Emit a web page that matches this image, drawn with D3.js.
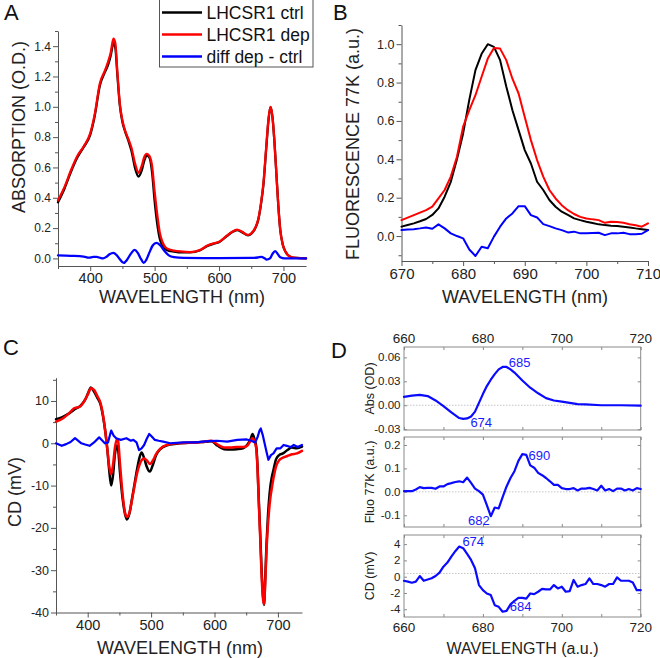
<!DOCTYPE html>
<html><head><meta charset="utf-8">
<script src="https://cdn.jsdelivr.net/npm/d3@7"></script>
<style>body{margin:0;background:#fff}svg{display:block}</style>
</head><body>
<svg id="c" width="660" height="658"></svg>
<script>
// ---------- Panel A: absorption ----------
const absWl = [350,360,370,380,390,400,407,415,423,428,432,436,439,442,446,450,454,459,464,470,475,480,484,488,492,496,500,504,508,512,516,522,530,540,555,570,582,592,600,612,620,628,636,645,650,656,661,665,669,673,677,680,683,686,689,692,695,699,703,710,720,735];
const absCtrl = [0.37,0.46,0.57,0.665,0.735,0.815,0.94,1.14,1.23,1.28,1.34,1.42,1.39,1.22,1.01,0.90,0.84,0.78,0.71,0.59,0.54,0.58,0.645,0.68,0.665,0.57,0.38,0.23,0.13,0.085,0.062,0.05,0.045,0.04,0.04,0.052,0.082,0.097,0.107,0.147,0.172,0.187,0.172,0.152,0.162,0.197,0.257,0.355,0.49,0.71,0.92,1.00,0.93,0.77,0.56,0.35,0.19,0.09,0.045,0.013,0.003,0.0];
const absDep = [0.383,0.47,0.58,0.675,0.74,0.825,0.95,1.154,1.24,1.30,1.36,1.45,1.42,1.24,1.02,0.91,0.845,0.79,0.73,0.62,0.565,0.61,0.67,0.69,0.675,0.61,0.44,0.29,0.17,0.11,0.078,0.06,0.052,0.046,0.042,0.055,0.085,0.10,0.11,0.15,0.175,0.19,0.175,0.155,0.165,0.20,0.26,0.36,0.50,0.72,0.93,1.00,0.93,0.77,0.56,0.35,0.19,0.09,0.045,0.013,0.003,0.0];
const absDiffWl = [350,370,390,398,405,410,416,420,425,430,436,441,446,452,457,463,469,474,479,483,487,492,497,503,509,515,522,530,545,600,650,660,666,670,674,679,683,687,691,695,702,735];
const absDiff = [0.02,0.017,0.012,0.005,0.01,0.01,0.003,0.0,0.01,0.028,0.037,0.022,-0.005,-0.03,-0.01,0.03,0.057,0.035,-0.005,-0.03,-0.01,0.04,0.085,0.103,0.085,0.05,0.02,0.008,0.003,0.002,0.003,0.006,0.01,0.003,-0.008,0.0,0.03,0.048,0.03,0.008,0.0,0.0];
const absYTicks = [0,0.2,0.4,0.6,0.8,1.0,1.2,1.4];
const absXTicks = [400,500,600,700];
const legendLabels = ["LHCSR1 ctrl","LHCSR1 dep","diff dep - ctrl"];
const seriesColors = ["#000000","#ff0000","#0000ff"];

// ---------- Panel B: fluorescence 77K ----------
const fluWl = d3.range(670, 711);
const fluCtrl = [0.049,0.058,0.066,0.077,0.089,0.11,0.144,0.205,0.283,0.40,0.535,0.71,0.865,0.95,1.0,0.986,0.917,0.78,0.656,0.552,0.448,0.378,0.283,0.24,0.188,0.153,0.127,0.11,0.092,0.083,0.075,0.068,0.061,0.057,0.054,0.052,0.049,0.045,0.040,0.036,0.031];
const fluDep = [0.083,0.096,0.109,0.122,0.135,0.153,0.196,0.24,0.31,0.413,0.57,0.656,0.734,0.83,0.925,0.98,0.977,0.917,0.82,0.743,0.62,0.50,0.396,0.31,0.24,0.196,0.161,0.135,0.115,0.10,0.092,0.087,0.083,0.069,0.075,0.073,0.069,0.062,0.056,0.049,0.066];
const fluDiff = [0.031,0.034,0.036,0.040,0.045,0.038,0.061,0.04,0.014,0.0,-0.012,-0.07,-0.104,-0.056,-0.064,-0.003,0.049,0.092,0.118,0.156,0.156,0.109,0.097,0.062,0.052,0.04,0.031,0.019,0.023,0.014,0.014,0.016,0.017,0.005,0.014,0.014,0.017,0.01,0.009,0.012,0.031];
const fluYTicks = [0,0.2,0.4,0.6,0.8,1.0];
const fluXTicks = [670,680,690,700,710];

// ---------- Panel C: CD ----------
const cdWl = [350,360,370,378,388,396,401,405,410,415,420,424,428,431,434,437,440,443,446,448,451,455,459,462,466,470,474,478,482,485,489,493,498,503,508,515,525,540,560,580,595,605,615,625,635,645,652,657,660,663,666,668,670,672,674,676,678,680,682,684,686,688,690,693,697,702,708,715,722,730,738];
const cdCtrl = [5.7,6.2,7.0,7.9,8.8,10.3,12.0,13.2,12.2,10.8,9.3,6.5,2.5,-1.5,-6.5,-10.0,-7.5,-2.5,-0.5,-1.5,-7.0,-13.0,-16.8,-18.0,-16.5,-13.0,-9.5,-6.0,-3.2,-2.2,-3.5,-5.5,-6.7,-5.0,-2.8,-1.3,-0.5,-0.1,0.1,0.3,0.5,-0.6,-1.4,-1.5,-1.4,-1.2,-0.3,1.0,2.2,1.0,-1.0,-6.0,-14.0,-21.0,-29.0,-35.0,-38.2,-32.0,-24.0,-18.0,-13.5,-10.3,-8.3,-6.3,-3.8,-2.8,-2.4,-1.6,-1.0,-1.2,-0.8];
const cdDep = [5.1,5.8,7.0,8.2,8.7,10.3,11.8,13.0,12.6,11.2,9.6,6.8,2.5,-1.5,-5.5,-7.3,-5.0,-1.0,1.0,0.5,-5.0,-12.0,-16.5,-17.4,-16.3,-13.3,-10.0,-7.0,-5.0,-4.0,-3.6,-4.0,-4.9,-4.0,-2.5,-1.2,-0.4,0.0,0.1,0.3,0.6,-0.3,-1.0,-1.0,-0.9,-0.9,-0.5,0.6,1.2,0.5,-1.5,-6.5,-14.5,-22.0,-30.0,-36.0,-38.0,-33.0,-25.5,-20.0,-16.0,-13.0,-11.0,-8.3,-5.5,-4.0,-3.4,-3.0,-2.6,-2.4,-1.8];
const cdDiffWl = [350,359,366,373,380,390,396,403,410,418,427,432,437,441,445,452,461,468,472,477,481,485,489,493,497,501,506,512,519,530,551,570,590,604,620,636,651,658,664,668,671,673,676,679,682,685,689,693,698,704,709,714,720,725,731,738];
const cdDiff = [0.0,-0.6,-0.2,0.3,1.2,0.0,-0.3,-0.6,0.2,1.4,0.0,0.2,3.0,1.8,1.2,0.8,1.2,0.6,0.8,0.2,-1.6,-1.2,-0.4,1.0,2.2,1.6,0.8,0.6,0.4,0.0,0.2,0.2,0.5,0.6,0.4,0.8,0.9,0.6,0.2,1.5,3.0,3.5,2.0,0.0,-2.0,-3.9,-2.8,-2.4,-1.2,-1.2,-0.4,-0.6,-0.9,-0.4,-0.9,-0.4];
const cdYTicks = [-40,-30,-20,-10,0,10];
const cdXTicks = [400,500,600,700];

// ---------- Panel D: differences ----------
const dAbsWl = [660,662,664,666,668,670,672,674,675,676,677,678,679,680,681,682,683,684,685,686,687,688,689,690,692,694,696,698,700,702,704,706,710,715,720];
const dAbs = [0.0105,0.012,0.013,0.0115,0.006,-0.001,-0.009,-0.016,-0.017,-0.0165,-0.014,-0.008,0.003,0.014,0.024,0.032,0.039,0.045,0.048,0.048,0.045,0.041,0.036,0.031,0.022,0.015,0.009,0.006,0.0045,0.003,0.0015,0.001,0.0,0.0,-0.0005];
const dFluWl = d3.range(660, 721);
const dFlu = [0.003,0.003,0.003,0.01,0.02,0.016,0.017,0.017,0.013,0.023,0.023,0.033,0.037,0.042,0.045,0.041,0.061,0.038,0.014,0.003,-0.012,-0.057,-0.104,-0.067,-0.071,-0.023,0.023,0.059,0.088,0.132,0.161,0.158,0.113,0.103,0.081,0.071,0.059,0.045,0.030,0.030,0.016,0.012,0.012,0.016,0.006,0.014,0.014,0.017,0.012,0.006,0.026,0.006,0.012,0.003,0.014,0.014,0.006,0.012,0.006,0.016,0.012];
const dCdWl = d3.range(660, 721);
const dCd = [-0.5,-0.6,-0.74,-0.6,0.08,-0.5,-0.35,-0.2,0.08,0.5,1.23,1.73,2.47,3.13,3.7,3.5,2.8,2.06,1.03,-1.03,-1.65,-2.06,-2.26,-3.5,-3.7,-4.3,-4.2,-3.4,-2.96,-2.6,-2.6,-2.7,-2.06,-2.14,-1.85,-1.5,-1.56,-1.56,-1.03,-1.44,-1.23,-1.85,-1.77,-0.4,-1.23,-1.03,-0.9,-0.2,-0.9,-0.9,-1.03,-1.23,-0.9,-0.9,-0.08,-0.5,-0.5,-0.5,-0.7,-1.65,-1.65];
const dRefs = [0, 0, 0.4];
const dXTicks = [660,680,700,720];
const dXMinor = [670,690,710];
const dAbsTicks = [-0.03,0.00,0.03,0.06];
const dFluTicks = [-0.1,0.0,0.1,0.2];
const dCdTicks = [-4,-2,0,2,4];
const dTitles = ["Abs (OD)","Fluo 77K (a.u.)","CD (mV)"];
const dNotes = [
  {p:0, wl:685, v:0.048, text:"685"},
  {p:0, wl:674, v:-0.017, text:"674"},
  {p:1, wl:690, v:0.161, text:"690"},
  {p:1, wl:682, v:-0.104, text:"682"},
  {p:2, wl:674, v:3.7, text:"674"},
  {p:2, wl:685, v:-4.3, text:"684"}
];
const dNoteOffsets = [[17,-5],[22,4],[17,1],[-12,4.5],[14,-5],[18,-5.5]];

// ---------- drawing ----------
const FF = '"Liberation Sans", Arial, Helvetica, sans-serif';
const AX = "#555";
const svg = d3.select("#c").attr("font-family", FF);
const hy = f => d => f(d).replace("\u2212", "-");

function originAxes(x, y, o) {
  const [x0] = x.range(), [y0] = y.range();
  const g = svg.append("g");
  g.append("g").attr("transform", `translate(${x0},0)`)
    .call(d3.axisLeft(y).tickValues(o.yMin).tickSize(3).tickFormat(""))
    .call(s => s.select(".domain").remove());
  g.append("g").attr("transform", `translate(0,${y0})`)
    .call(d3.axisBottom(x).tickValues(o.xMin).tickSize(3).tickFormat(""))
    .call(s => s.select(".domain").remove());
  g.append("g").attr("transform", `translate(${x0},0)`)
    .call(d3.axisLeft(y).tickValues(o.yMaj).tickSize(5).tickSizeOuter(0).tickPadding(2).tickFormat(o.yFmt))
    .attr("font-family", FF).attr("font-size", o.yFs);
  g.append("g").attr("transform", `translate(0,${y0})`)
    .call(d3.axisBottom(x).tickValues(o.xMaj).tickSize(5).tickSizeOuter(0).tickPadding(2).tickFormat(o.xFmt))
    .attr("font-family", FF).attr("font-size", o.xFs);
  g.selectAll("path.domain").attr("stroke", AX);
  g.selectAll("line").attr("stroke", AX);
  g.selectAll("text").attr("fill", "#222");
  svg.append("text").attr("x", o.xt[0]).attr("y", o.xt[1]).attr("text-anchor", "middle")
    .attr("font-size", 18).attr("fill", "#222").text(o.xTitle);
  svg.append("text").attr("transform", `translate(${o.yt[0]},${o.yt[1]}) rotate(-90)`)
    .attr("dy", "0.35em").attr("text-anchor", "middle").attr("font-size", 18).attr("fill", "#222").text(o.yTitle);
}

function drawLine(x, y, wl, vals, color, width, curve) {
  const line = d3.line().x(d => x(d[0])).y(d => y(d[1])).curve(curve || d3.curveLinear);
  svg.append("path").datum(d3.zip(wl, vals)).attr("d", line)
    .attr("fill", "none").attr("stroke", color).attr("stroke-width", width)
    .attr("stroke-linejoin", "round").attr("stroke-linecap", "round");
}

function panelLabel(t, x, y) {
  svg.append("text").attr("x", x).attr("y", y).attr("font-size", 22).attr("fill", "#111").text(t);
}

// Panel A
{
  const x = d3.scaleLinear().domain([350, 735]).range([58, 306]);
  const y = d3.scaleLinear().domain([-0.05, 1.5]).range([266, 31]);
  originAxes(x, y, {
    yMaj: absYTicks, yMin: [0.1,0.3,0.5,0.7,0.9,1.1,1.3,1.5], xMaj: absXTicks, xMin: [350,450,550,650],
    yFmt: d3.format(".1f"), xFmt: d3.format("d"), yFs: 12, xFs: 14.5,
    xTitle: "WAVELENGTH (nm)", xt: [182, 303], yTitle: "ABSORPTION (O.D.)", yt: [19, 127]
  });
  drawLine(x, y, absWl, absCtrl, seriesColors[0], 2.3, d3.curveMonotoneX);
  drawLine(x, y, absWl, absDep, seriesColors[1], 2.3, d3.curveMonotoneX);
  drawLine(x, y, absDiffWl, absDiff, seriesColors[2], 2.3, d3.curveMonotoneX);
  // legend
  const lg = svg.append("g");
  lg.append("rect").attr("x", 159.5).attr("y", -1).attr("width", 153.5).attr("height", 68)
    .attr("fill", "#fff").attr("stroke", AX).attr("stroke-width", 1);
  legendLabels.forEach((lab, i) => {
    const yy = 12.5 + i * 22;
    lg.append("line").attr("x1", 162).attr("x2", 202).attr("y1", yy).attr("y2", yy)
      .attr("stroke", seriesColors[i]).attr("stroke-width", 2.5);
    lg.append("text").attr("x", 206.5).attr("y", yy).attr("dy", "0.35em")
      .attr("font-size", 17.5).attr("fill", "#111").text(lab);
  });
  panelLabel("A", 4, 20);
}

// Panel B
{
  const x = d3.scaleLinear().domain([670, 710]).range([401.5, 648]);
  const y = d3.scaleLinear().domain([-0.13, 1.1]).range([261, 25]);
  originAxes(x, y, {
    yMaj: fluYTicks, yMin: [-0.1,0.1,0.3,0.5,0.7,0.9,1.1], xMaj: fluXTicks, xMin: [675,685,695,705],
    yFmt: d3.format(".1f"), xFmt: d3.format("d"), yFs: 12.5, xFs: 15,
    xTitle: "WAVELENGTH (nm)", xt: [525, 303], yTitle: "FLUORESCENCE 77K (a.u.)", yt: [353, 144]
  });
  drawLine(x, y, fluWl, fluCtrl, seriesColors[0], 2, d3.curveLinear);
  drawLine(x, y, fluWl, fluDep, seriesColors[1], 2, d3.curveLinear);
  drawLine(x, y, fluWl, fluDiff, seriesColors[2], 2, d3.curveLinear);
  panelLabel("B", 333, 20);
}

// Panel C
{
  const x = d3.scaleLinear().domain([350, 738]).range([56, 302]);
  const y = d3.scaleLinear().domain([-40, 15.5]).range([612.5, 377.7]);
  originAxes(x, y, {
    yMaj: cdYTicks, yMin: [-35,-25,-15,-5,5,15], xMaj: cdXTicks, xMin: [350,450,550,650],
    yFmt: hy(d3.format("d")), xFmt: d3.format("d"), yFs: 12.5, xFs: 14.5,
    xTitle: "WAVELENGTH (nm)", xt: [180, 654], yTitle: "CD (mV)", yt: [15, 492]
  });
  drawLine(x, y, cdWl, cdCtrl, seriesColors[0], 2.5, d3.curveMonotoneX);
  drawLine(x, y, cdWl, cdDep, seriesColors[1], 2.5, d3.curveMonotoneX);
  drawLine(x, y, cdDiffWl, cdDiff, seriesColors[2], 2.2, d3.curveLinear);
  panelLabel("C", 3, 355);
}

// Panel D
{
  const x = d3.scaleLinear().domain([660, 720]).range([404, 640.7]);
  const ys = [
    d3.scaleLinear().domain([-0.031, 0.073]).range([430, 347]),
    d3.scaleLinear().domain([-0.15, 0.234]).range([527, 437]),
    d3.scaleLinear().domain([-4.95, 5.12]).range([617, 535])
  ];
  const wls = [dAbsWl, dFluWl, dCdWl];
  const vals = [dAbs, dFlu, dCd];
  const yTicks = [dAbsTicks, dFluTicks, dCdTicks];
  const fmts = [hy(d3.format(".2f")), hy(d3.format(".1f")), hy(d3.format("d"))];
  const FR = "#8a8a8a";
  ys.forEach((y, i) => {
    const [yb, yt] = y.range();
    const [xl, xr] = x.range();
    const g = svg.append("g");
    g.append("line").attr("x1", xl).attr("x2", xr).attr("y1", y(dRefs[i])).attr("y2", y(dRefs[i]))
      .attr("stroke", "#b5b5b5").attr("stroke-width", 0.8).attr("stroke-dasharray", "1.5,1.5");
    g.append("g").attr("transform", `translate(${xl},0)`).call(d3.axisRight(y).tickValues(yTicks[i]).tickSize(3).tickFormat(""))
      .call(s => s.select(".domain").remove());
    g.append("g").attr("transform", `translate(${xr},0)`).call(d3.axisLeft(y).tickValues(yTicks[i]).tickSize(3).tickFormat(""))
      .call(s => s.select(".domain").remove());
    g.append("g").attr("transform", `translate(0,${yb})`).call(d3.axisTop(x).tickValues(dXTicks.concat(dXMinor)).tickSize(3).tickFormat(""))
      .call(s => s.select(".domain").remove());
    g.append("g").attr("transform", `translate(0,${yt})`).call(d3.axisBottom(x).tickValues(dXTicks.concat(dXMinor)).tickSize(3).tickFormat(""))
      .call(s => s.select(".domain").remove());
    g.selectAll(".tick line").attr("stroke", FR);
    g.append("rect").attr("x", xl).attr("y", yt).attr("width", xr - xl).attr("height", yb - yt)
      .attr("fill", "none").attr("stroke", FR).attr("stroke-width", 1);
    g.selectAll("text.yl").data(yTicks[i]).join("text").attr("class", "yl")
      .attr("x", xl - 3.5).attr("y", d => y(d)).attr("dy", "0.35em").attr("text-anchor", "end")
      .attr("font-size", 11.5).attr("fill", "#222").text(fmts[i]);
    svg.append("text").attr("transform", `translate(370,${(yb + yt) / 2}) rotate(-90)`)
      .attr("dy", "0.35em").attr("text-anchor", "middle").attr("font-size", 12.5).attr("fill", "#222").text(dTitles[i]);
    drawLine(x, y, wls[i], vals[i], "#0a0aff", 2.2, d3.curveLinear);
  });
  svg.selectAll("text.xt").data(dXTicks).join("text").attr("class", "xt")
    .attr("x", d => x(d)).attr("y", 343).attr("text-anchor", "middle").attr("font-size", 13.5).attr("fill", "#222").text(d3.format("d"));
  svg.selectAll("text.xb").data(dXTicks).join("text").attr("class", "xb")
    .attr("x", d => x(d)).attr("y", 632).attr("text-anchor", "middle").attr("font-size", 13.5).attr("fill", "#222").text(d3.format("d"));
  svg.append("text").attr("x", 522.5).attr("y", 654).attr("text-anchor", "middle").attr("font-size", 16).attr("fill", "#222")
    .text("WAVELENGTH (a.u.)");
  dNotes.forEach((n, k) => {
    const y = ys[n.p];
    svg.append("text").attr("x", x(n.wl) + dNoteOffsets[k][0]).attr("y", y(n.v) + dNoteOffsets[k][1]).attr("dy", "0.35em")
      .attr("text-anchor", "middle").attr("font-size", 13).attr("fill", "#1a1aff").text(n.text);
  });
  panelLabel("D", 331, 358);
}
</script>
</body></html>
